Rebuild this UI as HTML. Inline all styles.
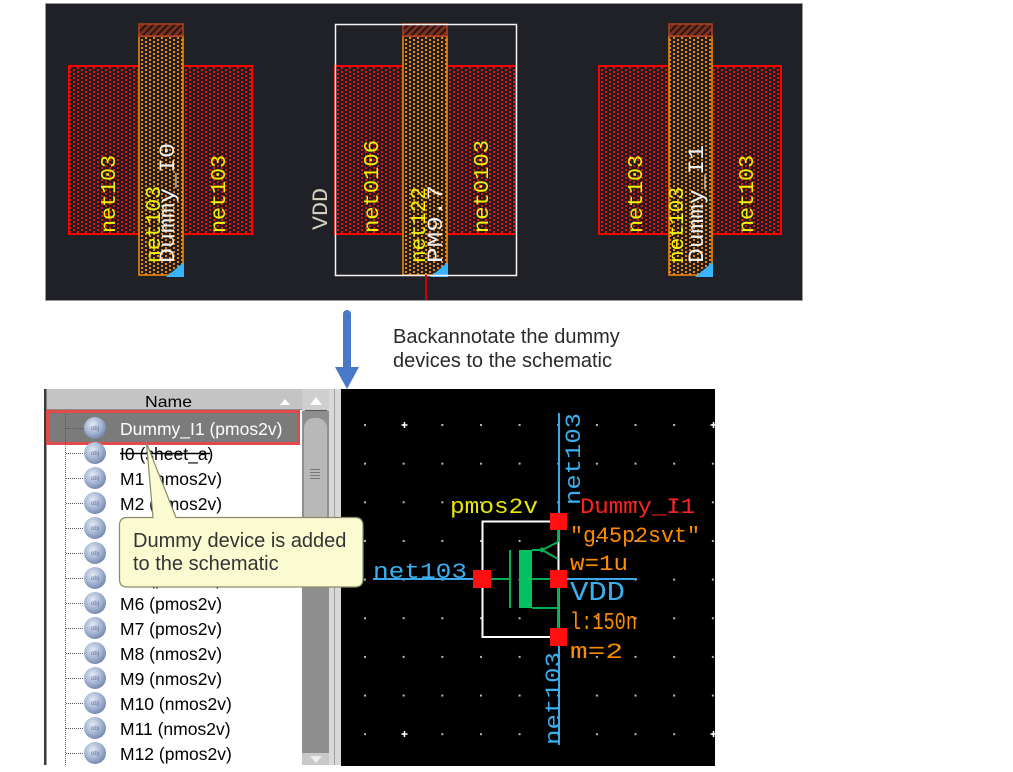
<!DOCTYPE html>
<html><head><meta charset="utf-8">
<style>
html,body{margin:0;padding:0;background:#fff;}
svg{display:block;}
.m{font-family:"Liberation Mono","DejaVu Sans Mono",monospace;}
.s{font-family:"Liberation Sans","DejaVu Sans",sans-serif;}
</style></head>
<body>
<svg width="1013" height="772" viewBox="0 0 1013 772" xmlns="http://www.w3.org/2000/svg">
<defs>
<pattern id="rd" width="8" height="4" patternUnits="userSpaceOnUse"><rect width="8" height="4" fill="#231a1d"/><rect x="1" y="1" width="2" height="2" fill="#e81010"/><rect x="5" y="3" width="2" height="1" fill="#e81010"/><rect x="5" y="0" width="2" height="1" fill="#e81010"/></pattern>
<pattern id="od" width="8" height="4" patternUnits="userSpaceOnUse"><rect width="8" height="4" fill="#221d1c"/><rect x="1" y="1" width="2" height="2" fill="#f08810"/><rect x="5" y="3" width="2" height="1" fill="#f08810"/><rect x="5" y="0" width="2" height="1" fill="#f08810"/></pattern>
<pattern id="hx" width="5" height="5" patternUnits="userSpaceOnUse" patternTransform="rotate(45)"><rect width="5" height="5" fill="#7a3020"/><rect width="2" height="5" fill="#2a1410"/></pattern>
<pattern id="gd" x="364" y="424" width="38.65" height="38.65" patternUnits="userSpaceOnUse"><rect width="2" height="2" fill="#b8b8b8"/></pattern>
<radialGradient id="ig" cx="0.4" cy="0.35" r="0.7"><stop offset="0" stop-color="#e4ebf6"/><stop offset="0.6" stop-color="#9fb0d0"/><stop offset="1" stop-color="#6e82a8"/></radialGradient>
<clipPath id="tc"><rect x="46" y="410" width="256" height="355"/></clipPath>
</defs>

<!-- ===== TOP LAYOUT PANEL ===== -->
<rect x="45.5" y="3.5" width="757" height="297" fill="#1f2127" stroke="#9a9a9a"/>

<!-- left device -->
<rect x="69" y="66" width="183" height="168" fill="url(#rd)" stroke="#ff0000" stroke-width="2"/>
<rect x="139" y="36" width="44" height="239" fill="url(#od)" stroke="#ff8c00" stroke-width="1.5"/>
<rect x="139" y="24" width="44" height="12" fill="url(#hx)" stroke="#b04020" stroke-width="1.5"/>
<polygon points="166,277 184,277 184,262" fill="#38b4ff"/>

<!-- middle device -->
<rect x="335" y="66" width="181" height="168" fill="url(#rd)" stroke="#ff0000" stroke-width="2"/>
<rect x="403" y="36" width="44" height="239" fill="url(#od)" stroke="#ff8c00" stroke-width="1.5"/>
<rect x="403" y="24" width="44" height="12" fill="url(#hx)" stroke="#b04020" stroke-width="1.5"/>
<polygon points="430,277 448,277 448,262" fill="#38b4ff"/>
<rect x="335.5" y="24.5" width="181" height="251" fill="none" stroke="#f4f4f4" stroke-width="1.5"/>
<line x1="426" y1="275" x2="426" y2="300" stroke="#d00000" stroke-width="2"/>

<!-- right device -->
<rect x="599" y="66" width="182" height="168" fill="url(#rd)" stroke="#ff0000" stroke-width="2"/>
<rect x="669" y="36" width="43" height="239" fill="url(#od)" stroke="#ff8c00" stroke-width="1.5"/>
<rect x="669" y="24" width="43" height="12" fill="url(#hx)" stroke="#b04020" stroke-width="1.5"/>
<polygon points="695,277 713,277 713,262" fill="#38b4ff"/>

<!-- layout labels -->
<g class="m" font-size="21">
<text transform="translate(115,233) rotate(-90)" fill="#f4f400" textLength="78" lengthAdjust="spacingAndGlyphs">net103</text>
<text transform="translate(160,263) rotate(-90)" fill="#f4f400" textLength="77" lengthAdjust="spacingAndGlyphs">net103</text>
<text transform="translate(174,263) rotate(-90)" fill="#f0f0f0" font-size="22" textLength="120" lengthAdjust="spacingAndGlyphs">Dummy_I0</text>
<text transform="translate(225,233) rotate(-90)" fill="#f4f400" textLength="78" lengthAdjust="spacingAndGlyphs">net103</text>
<text transform="translate(327,230) rotate(-90)" fill="#d8cfc0" font-size="22" textLength="42" lengthAdjust="spacingAndGlyphs">VDD</text>
<text transform="translate(378,233) rotate(-90)" fill="#f4f400" textLength="93" lengthAdjust="spacingAndGlyphs">net0106</text>
<text transform="translate(425,263) rotate(-90)" fill="#f4f400" textLength="76" lengthAdjust="spacingAndGlyphs">net122</text>
<text transform="translate(442,263) rotate(-90)" fill="#f0f0f0" font-size="22" textLength="78" lengthAdjust="spacingAndGlyphs">PM9.7</text>
<text transform="translate(488,233) rotate(-90)" fill="#f4f400" textLength="93" lengthAdjust="spacingAndGlyphs">net0103</text>
<text transform="translate(642,233) rotate(-90)" fill="#f4f400" textLength="78" lengthAdjust="spacingAndGlyphs">net103</text>
<text transform="translate(683,263) rotate(-90)" fill="#f4f400" textLength="76" lengthAdjust="spacingAndGlyphs">net103</text>
<text transform="translate(703,263) rotate(-90)" fill="#f0f0f0" font-size="22" textLength="118" lengthAdjust="spacingAndGlyphs">Dummy_I1</text>
<text transform="translate(753,233) rotate(-90)" fill="#f4f400" textLength="78" lengthAdjust="spacingAndGlyphs">net103</text>
</g>

<!-- ===== ARROW + CAPTION ===== -->
<rect x="343" y="310" width="8" height="62" rx="4" fill="#4a78c8"/>
<polygon points="335,367 359,367 347,389" fill="#4a78c8"/>
<text class="s" x="393" y="343" font-size="20" fill="#2a2a2a">Backannotate the dummy</text>
<text class="s" x="393" y="367" font-size="20" fill="#2a2a2a">devices to the schematic</text>

<!-- ===== SCHEMATIC ===== -->
<rect x="341" y="389" width="374" height="377" fill="#000"/>
<rect x="341" y="389" width="374" height="377" fill="url(#gd)"/>
<g stroke="#fff" stroke-width="1.5">
<path d="M401.5 425h6M404.5 422v6M710.5 425h6M713.5 422v6M401.5 734h6M404.5 731v6M710.5 734h6M713.5 731v6"/>
</g>
<!-- wires -->
<g stroke="#3aa8ea" stroke-width="2" fill="none">
<line x1="559" y1="413" x2="559" y2="513"/>
<line x1="559" y1="646" x2="559" y2="745"/>
<line x1="373" y1="579" x2="474" y2="579"/>
<line x1="567" y1="579" x2="637" y2="579"/>
</g>
<!-- symbol -->
<rect x="482.5" y="521.5" width="76" height="115.5" fill="none" stroke="#fff" stroke-width="2"/>
<g stroke="#00b050" stroke-width="2" fill="none">
<line x1="491" y1="579" x2="510" y2="579"/>
<line x1="510" y1="550" x2="510" y2="608"/>
<line x1="532" y1="550" x2="542" y2="550"/>
<line x1="542" y1="550" x2="558" y2="542"/>
<line x1="542" y1="550" x2="558" y2="559"/>
<line x1="558" y1="530" x2="558" y2="542"/>
<line x1="532" y1="579" x2="550" y2="579"/>
<line x1="532" y1="608" x2="558" y2="608"/>
<line x1="558" y1="588" x2="558" y2="628"/>
</g>
<circle cx="542" cy="550" r="2.5" fill="#00b050"/>
<rect x="519" y="550" width="13" height="58" fill="#00c060"/>
<!-- pins -->
<g fill="#ff1010">
<rect x="550" y="513" width="17" height="17"/>
<rect x="473" y="570" width="18" height="18"/>
<rect x="550" y="570" width="17" height="18"/>
<rect x="550" y="628" width="17" height="18"/>
</g>
<!-- schematic labels -->
<g class="m" font-size="22">
<text x="450" y="513" fill="#e8e800" textLength="88" lengthAdjust="spacingAndGlyphs">pmos2v</text>
<text x="580" y="513" fill="#ff2020" textLength="115" lengthAdjust="spacingAndGlyphs">Dummy_I1</text>
<text x="570" y="542" fill="#ff8c00" textLength="130" lengthAdjust="spacingAndGlyphs">"g45p2svt"</text>
<text x="570" y="570" fill="#ff8c00" textLength="58" lengthAdjust="spacingAndGlyphs">w=1u</text>
<text x="570" y="600" fill="#3ab0f0" font-size="27" textLength="55" lengthAdjust="spacingAndGlyphs">VDD</text>
<text x="570" y="629" fill="#ff8c00" font-size="24" textLength="67" lengthAdjust="spacingAndGlyphs">l:150n</text>
<text x="570" y="658" fill="#ff8c00" textLength="53" lengthAdjust="spacingAndGlyphs">m=2</text>
<text x="373" y="578" fill="#3ab0f0" textLength="94" lengthAdjust="spacingAndGlyphs">net103</text>
<text transform="translate(580,505) rotate(-90)" fill="#3ab0f0" textLength="92" lengthAdjust="spacingAndGlyphs">net103</text>
<text transform="translate(560,745) rotate(-90)" fill="#3ab0f0" textLength="93" lengthAdjust="spacingAndGlyphs">net103</text>
</g>

<!-- ===== TREE PANEL ===== -->
<rect x="46" y="389" width="256" height="376" fill="#fff"/>
<rect x="46" y="389" width="256" height="21" fill="#c4c4c4"/>
<line x1="46" y1="409.5" x2="302" y2="409.5" stroke="#8a8a8a"/>
<text class="s" x="145" y="407" font-size="16" fill="#000" textLength="47" lengthAdjust="spacingAndGlyphs">Name</text>
<polygon points="280,405 290,405 285,399" fill="#fff"/>

<!-- scrollbar -->
<rect x="302" y="389" width="27" height="376" fill="#8e8e8e"/>
<rect x="302" y="389" width="27" height="22" fill="#cfcfcf"/>
<polygon points="310,405 322,405 316,397" fill="#fff"/>
<line x1="305" y1="410.5" x2="327" y2="410.5" stroke="#555"/>
<rect x="304" y="418" width="23" height="110" rx="10" fill="#b8b8b8"/>
<g stroke="#777" stroke-width="1"><path d="M310 469.5h10M310 472.5h10M310 475.5h10M310 478.5h10"/></g>
<rect x="302" y="753" width="27" height="12" fill="#c8c8c8"/>
<polygon points="310,756 322,756 316,763" fill="#eee"/>
<rect x="329" y="389" width="12" height="376" fill="#d8d8d8"/>
<line x1="334.5" y1="389" x2="334.5" y2="765" stroke="#a0a0a0"/>
<rect x="44" y="389" width="2.5" height="376" fill="#3a3a3a"/>

<g clip-path="url(#tc)">
<rect x="47.5" y="411.5" width="251" height="32" fill="#7b7b7b" stroke="#e04a4a" stroke-width="3"/>
<line x1="65.5" y1="414" x2="65.5" y2="765" stroke="#555" stroke-dasharray="1 1"/>
<g stroke="#555" stroke-dasharray="1 1">
<path d="M66 428.5h18M66 453.5h18M66 478.5h18M66 503.5h18M66 528.5h18M66 553.5h18M66 578.5h18M66 603.5h18M66 628.5h18M66 653.5h18M66 678.5h18M66 703.5h18M66 728.5h18M66 753.5h18"/>
</g>
<g>
<circle cx="95" cy="428" r="11" fill="url(#ig)"/><circle cx="95" cy="453" r="11" fill="url(#ig)"/>
<circle cx="95" cy="478" r="11" fill="url(#ig)"/><circle cx="95" cy="503" r="11" fill="url(#ig)"/>
<circle cx="95" cy="528" r="11" fill="url(#ig)"/><circle cx="95" cy="553" r="11" fill="url(#ig)"/>
<circle cx="95" cy="578" r="11" fill="url(#ig)"/><circle cx="95" cy="603" r="11" fill="url(#ig)"/>
<circle cx="95" cy="628" r="11" fill="url(#ig)"/><circle cx="95" cy="653" r="11" fill="url(#ig)"/>
<circle cx="95" cy="678" r="11" fill="url(#ig)"/><circle cx="95" cy="703" r="11" fill="url(#ig)"/>
<circle cx="95" cy="728" r="11" fill="url(#ig)"/><circle cx="95" cy="753" r="11" fill="url(#ig)"/>
</g>
<g class="s" font-size="6" fill="#5a6e96" text-anchor="middle">
<text x="95" y="430">obj</text><text x="95" y="455">obj</text><text x="95" y="480">obj</text><text x="95" y="505">obj</text>
<text x="95" y="530">obj</text><text x="95" y="555">obj</text><text x="95" y="580">obj</text><text x="95" y="605">obj</text>
<text x="95" y="630">obj</text><text x="95" y="655">obj</text><text x="95" y="680">obj</text><text x="95" y="705">obj</text>
<text x="95" y="730">obj</text><text x="95" y="755">obj</text>
</g>
<g class="s" font-size="17.5" fill="#000">
<text x="120" y="435" fill="#fff">Dummy_I1 (pmos2v)</text>
<text x="120" y="460">I0 (sheet_a)</text>
<text x="120" y="485">M1 (nmos2v)</text>
<text x="120" y="510">M2 (pmos2v)</text>
<text x="120" y="535">M3 (nmos2v)</text>
<text x="120" y="560">M4 (nmos2v)</text>
<text x="120" y="585">M5 (pmos2v)</text>
<text x="120" y="610">M6 (pmos2v)</text>
<text x="120" y="635">M7 (pmos2v)</text>
<text x="120" y="660">M8 (nmos2v)</text>
<text x="120" y="685">M9 (nmos2v)</text>
<text x="120" y="710">M10 (nmos2v)</text>
<text x="120" y="735">M11 (nmos2v)</text>
<text x="120" y="760">M12 (pmos2v)</text>
</g>
<line x1="120" y1="453.5" x2="210" y2="453.5" stroke="#000" stroke-width="1.5"/>
</g>

<!-- ===== TOOLTIP ===== -->
<path d="M127,517.5 L153,517.5 L146.5,443 L176,517.5 L355,517.5 Q363,517.5 363,525.5 L363,579 Q363,587 355,587 L127,587 Q119.5,587 119.5,579 L119.5,525.5 Q119.5,517.5 127,517.5 Z" fill="#fbfbd2" stroke="#8a8a6a" stroke-width="1.2"/>
<text class="s" x="133" y="547" font-size="20" fill="#333">Dummy device is added</text>
<text class="s" x="133" y="570" font-size="20" fill="#333">to the schematic</text>
</svg>
</body></html>
